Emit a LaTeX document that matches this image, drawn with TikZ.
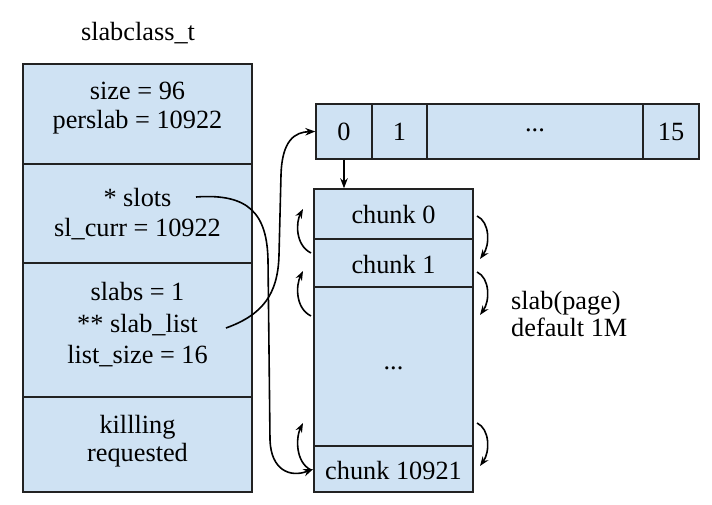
\documentclass[tikz,border=0pt]{standalone}
\usepackage{fontspec}
\setmainfont{Liberation Serif}
\usetikzlibrary{arrows.meta}
\definecolor{cellblue}{HTML}{CFE2F3}
\definecolor{edge}{HTML}{222222}
\begin{document}
\begin{tikzpicture}[x=1pt,y=-1pt,
  cell/.style n args={2}{draw=edge, line width=1.4pt, fill=cellblue, inner sep=0pt,
    minimum width=#1pt, minimum height=#2pt},
  txt/.style={font=\fontsize{26.3}{30}\selectfont, align=center, inner sep=0pt},
  conn/.style={line width=1.6pt, -{Stealth[length=10pt,width=7.5pt]}},
  loop/.style={line width=1.6pt, -{Stealth[length=9.5pt,width=7pt]}}]
\useasboundingbox (0,0) rectangle (712,505);

% title
\node[txt] (title) at (138,33) {slabclass\_t};

% left struct
\node[cell={229}{100}] (c1) at (137.5,114) {};
\node[cell={229}{99}]  (c2) at (137.5,213.5) {};
\node[cell={229}{134}] (c3) at (137.5,330) {};
\node[cell={229}{95}]  (c4) at (137.5,444.5) {};
\node[txt, font=\fontsize{26.3}{29}\selectfont] (t1) at (137.5,108) {size = 96\\perslab = 10922};
\node[txt] (t2) at (137.5,214) {* slots\\sl\_curr = 10922};
\node[txt, font=\fontsize{26.3}{31.5}\selectfont] (t3) at (137.5,325) {slabs = 1\\** slab\_list\\list\_size = 16};
\node[txt, font=\fontsize{26.3}{28.5}\selectfont] (t4) at (137.5,441) {killling\\requested};

% slab list array
\node[cell={56}{55}]  (a0) at (344,131.5) {};
\node[cell={55}{55}]  (a1) at (399.5,131.5) {};
\node[cell={216}{55}] (ad) at (535,131.5) {};
\node[cell={56}{55}]  (a15) at (671,131.5) {};
\node[txt] (ta0) at (344,132) {0};
\node[txt] (ta1) at (399.5,132) {1};
\node[txt] (tad) at (535,130) {...};
\node[txt] (ta15) at (671,132) {15};

% slab chunks
\node[cell={159}{50}]  (ch0) at (393.5,214) {};
\node[cell={159}{48}]  (ch1) at (393.5,263) {};
\node[cell={159}{159}] (chd) at (393.5,366.5) {};
\node[cell={159}{46}]  (chl) at (393.5,469) {};
\node[txt] (tch0) at (393.5,215) {chunk 0};
\node[txt] (tch1) at (393.5,265) {chunk 1};
\node[txt] (tchd) at (393.5,368) {...};
\node[txt] (tchl) at (393.5,471) {chunk 10921};

% side label
\node[txt, align=left, anchor=west, font=\fontsize{26.3}{27}\selectfont] (lbl) at (511,314) {slab(page)\\default 1M};

% connectors
\coordinate (slotsEnd) at (196,197);
\coordinate (listEnd) at (226,328);
\draw[conn] (a0.south) -- (a0.south |- ch0.north);
\draw[conn] (listEnd) .. controls (262,315) and (278,295) .. (279,255)
  -- (281,175) .. controls (282,140) and (295,132) .. (a0.west);
\draw[conn] (slotsEnd) .. controls (250,193) and (267,215) .. (268,260)
  -- (270,440) .. controls (271,470) and (290,478) .. (chl.west);

% prev links (left)
\coordinate (l1s) at (311,253); \coordinate (l1e) at (303,209);
\coordinate (l2s) at (311,316); \coordinate (l2e) at (303,271);
\coordinate (l3s) at (311,470); \coordinate (l3e) at (303,423);
\draw[loop] (l1s) .. controls (295,245) and (296,222) .. (l1e);
\draw[loop] (l2s) .. controls (295,308) and (296,285) .. (l2e);
\draw[loop] (l3s) .. controls (295,462) and (296,437) .. (l3e);

% next links (right)
\coordinate (r1s) at (477,216); \coordinate (r1e) at (480,259);
\coordinate (r2s) at (477,272); \coordinate (r2e) at (480,315);
\coordinate (r3s) at (477,423); \coordinate (r3e) at (480,466);
\draw[loop] (r1s) .. controls (490,222) and (490,245) .. (r1e);
\draw[loop] (r2s) .. controls (490,278) and (490,301) .. (r2e);
\draw[loop] (r3s) .. controls (490,429) and (490,452) .. (r3e);
\end{tikzpicture}
\end{document}
